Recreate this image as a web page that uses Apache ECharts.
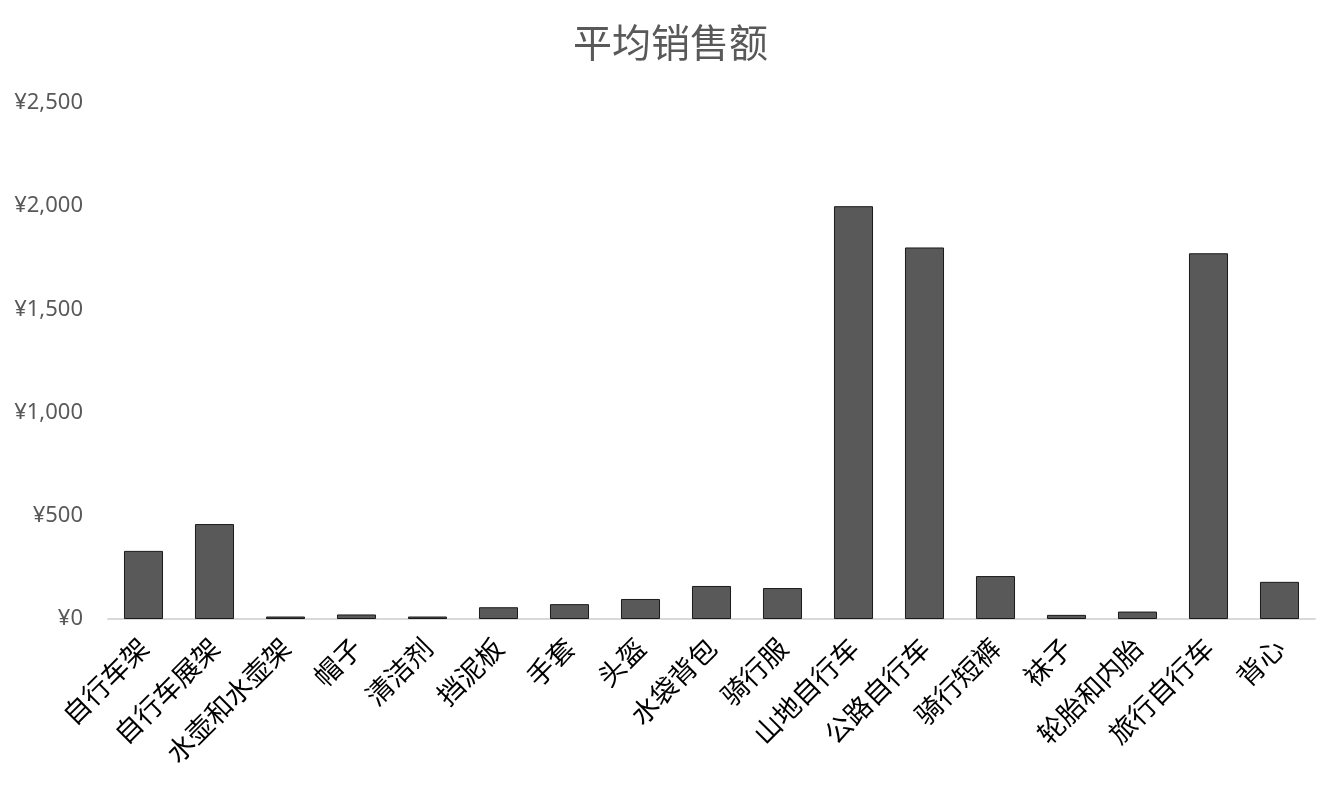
<!DOCTYPE html>
<html>
<head>
<meta charset="utf-8">
<script src="https://cdn.jsdelivr.net/npm/echarts@6/dist/echarts.min.js"></script>
<style>
  html, body { margin: 0; padding: 0; background: #fff; }
  #chart { width: 1341px; height: 800px; }
</style>
</head>
<body>
<div id="chart"></div>
<script>
const categories = ['自行车架', '自行车展架', '水壶和水壶架', '帽子', '清洁剂', '挡泥板', '手套', '头盔',
  '水袋背包', '骑行服', '山地自行车', '公路自行车', '骑行短裤', '袜子', '轮胎和内胎', '旅行自行车', '背心'];
const avgSales = [330, 460, 12, 22, 12, 57, 72, 97, 160, 150, 2000, 1800, 208, 20, 36, 1772, 180];
const yTicks = { min: 0, max: 2500, interval: 500 };

let chart = echarts.init(document.getElementById('chart'), null, { renderer: 'canvas' });

const fontCJK = '"Noto Sans CJK SC", "Noto Sans", sans-serif';

let option = {
  backgroundColor: '#fff',
  animation: false,
  title: {
    text: '平均销售额',
    left: 'center',
    top: 18,
    textStyle: { fontFamily: fontCJK, fontSize: 39, fontWeight: 'normal', color: '#595959' }
  },
  grid: { left: 108, right: 26, top: 103, bottom: 181, containLabel: false },
  xAxis: {
    type: 'category',
    data: categories,
    axisLine: { lineStyle: { color: '#d9d9d9', width: 2 } },
    axisTick: { show: false },
    axisLabel: {
      interval: 0,
      rotate: 45,
      margin: 24,
      color: '#000',
      fontSize: 27,
      fontFamily: fontCJK
    }
  },
  yAxis: {
    type: 'value',
    min: yTicks.min,
    max: yTicks.max,
    interval: yTicks.interval,
    splitLine: { show: false },
    axisLine: { show: false },
    axisTick: { show: false },
    axisLabel: {
      color: '#595959',
      fontSize: 22,
      fontFamily: '"Noto Sans", sans-serif',
      margin: 25,
      formatter: v => '¥' + v.toLocaleString('en-US')
    }
  },
  series: [{
    type: 'bar',
    data: avgSales,
    barCategoryGap: '45%',
    itemStyle: { color: '#595959', borderColor: '#1a1a1a', borderWidth: 1 }
  }]
};

chart.setOption(option);
window.addEventListener('resize', chart.resize);
</script>
</body>
</html>
